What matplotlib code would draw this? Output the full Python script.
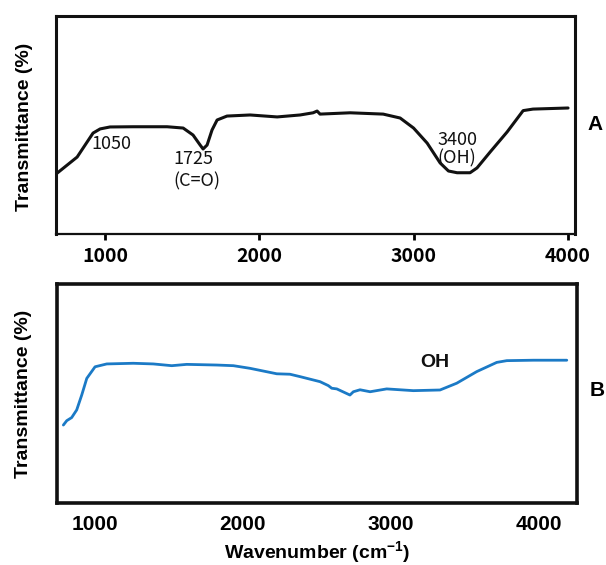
import matplotlib
matplotlib.use("Agg")
import matplotlib.pyplot as plt

plt.rcParams['mathtext.fontset'] = 'custom'
plt.rcParams['mathtext.rm'] = 'Liberation Sans'
plt.rcParams['mathtext.bf'] = 'Liberation Sans:bold'

# panel A (black spectrum)
wn_a = [682, 819, 922, 968, 1032, 1181, 1402, 1506, 1570, 1616, 1635, 1661,
        1693, 1726, 1790, 1940, 2115, 2264, 2348, 2374, 2393, 2588, 2802,
        2912, 2999, 3087, 3171, 3225, 3281, 3365, 3410, 3495, 3605, 3709,
        3773, 4000]
tr_a = [27.5, 35.3, 46.3, 48.2, 49.1, 49.2, 49.2, 48.6, 45.4, 40.8, 39.0, 40.8,
        47.7, 52.3, 54.1, 54.6, 53.7, 54.6, 55.6, 56.4, 55.0, 55.6, 55.0,
        53.2, 48.6, 41.7, 32.6, 28.9, 28.1, 28.1, 30.3, 37.6, 46.8, 56.6,
        57.3, 57.8]

# panel B (blue spectrum)
wn_b = [789, 812, 845, 879, 913, 947, 1003, 1082, 1261, 1396, 1521, 1622,
        1824, 1937, 2049, 2230, 2319, 2387, 2522, 2578, 2601, 2635, 2724,
        2747, 2792, 2860, 2972, 3152, 3332, 3445, 3580, 3715, 3783, 3963, 4188]
tr_b = [35.6, 37.6, 39.0, 42.5, 49.3, 56.9, 62.2, 63.5, 63.8, 63.5, 62.7, 63.3,
        63.0, 62.7, 61.5, 59.0, 58.8, 57.7, 55.4, 53.6, 52.4, 52.1, 49.3,
        50.8, 51.7, 50.8, 52.1, 51.3, 51.6, 54.7, 60.0, 64.2, 65.0, 65.2, 65.2]

xticks = [1000, 2000, 3000, 4000]

# peak labels for panel A: (text, wavenumber, transmittance)
peaks_a = [("1050", 1043, 41.3),
           ("1725", 1570, 34.4),
           ("(C=O)", 1596, 24.0),
           ("3400", 3281, 43.1),
           ("(OH)", 3281, 34.9)]

cjk = ['Noto Sans CJK KR', 'DejaVu Sans']
arial = ['Liberation Sans', 'DejaVu Sans']

fig = plt.figure(figsize=(6.06, 5.65), dpi=100)
ax1 = fig.add_axes([56 / 606, 1 - 234 / 565, 519 / 606, 218 / 565])
ax2 = fig.add_axes([57 / 606, 1 - 503 / 565, 520 / 606, 219 / 565])

# ---- panel A
ax1.plot(wn_a, tr_a, color='#111111', lw=2.2, solid_capstyle='round',
         solid_joinstyle='round')
ax1.set_xlim(682, 4045)
ax1.set_ylim(0, 100)
ax1.set_yticks([])
ax1.set_xticks(xticks)
ax1.set_xticklabels([str(t) for t in xticks], family=cjk, fontweight='bold',
                    fontsize=14)
ax1.tick_params(axis='x', direction='out', length=4, width=2, pad=5)
for sp in ax1.spines.values():
    sp.set_linewidth(2.2)
    sp.set_color('#111111')
ax1.spines['bottom'].set_linewidth(1.6)
for txt, x, y in peaks_a:
    ax1.text(x, y, txt, ha='center', va='center', family=cjk, fontsize=13,
             fontweight='medium', color='#111111')
ax1.set_ylabel("Transmittance (%)", family=arial, fontweight='bold',
               fontsize=14)
ax1.yaxis.set_label_coords(-0.045, 0.49)

# ---- panel B
ax2.plot(wn_b, tr_b, color='#1b7ac6', lw=2.0, solid_capstyle='round',
         solid_joinstyle='round')
ax2.set_xlim(746, 4257)
ax2.set_ylim(0, 100)
ax2.set_yticks([])
ax2.set_xticks(xticks)
ax2.set_xticklabels([str(t) for t in xticks], family=arial, fontweight='bold',
                    fontsize=15)
ax2.tick_params(axis='x', length=0, pad=9)
for sp in ax2.spines.values():
    sp.set_linewidth(2.6)
    sp.set_color('#111111')
ax2.text(3298, 64.2, "OH", ha='center', va='center', family=arial,
         fontweight='bold', fontsize=14, color='#111111')
ax2.set_ylabel("Transmittance (%)", family=arial, fontweight='bold',
               fontsize=14)
ax2.yaxis.set_label_coords(-0.048, 0.5)
ax2.set_xlabel(r"Wavenumber (cm$^{\mathbf{-1}}$)", family=arial,
               fontweight='bold', fontsize=14, labelpad=3.5)

fig.text(587 / 606, 1 - 125 / 565, "A", ha='left', va='center', family=arial,
         fontweight='bold', fontsize=15)
fig.text(590 / 606, 1 - 390 / 565, "B", ha='left', va='center', family=arial,
         fontweight='bold', fontsize=15)

fig.savefig("out.png", dpi=100)
